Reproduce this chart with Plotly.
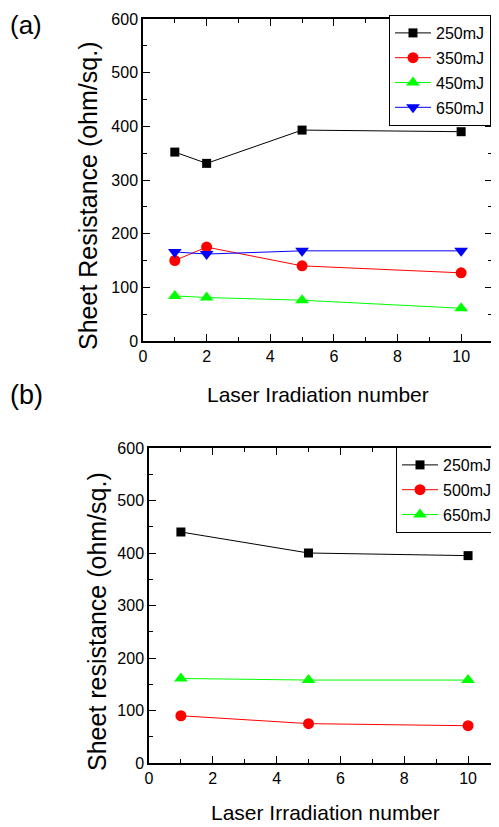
import plotly.graph_objects as go

# browser body has an 8px margin; figure sized to fit the 499x827 window exactly
OFF = 8
W, H = 499 - OFF, 827 - OFF

# ---- data panel (a)
xa = [1, 2, 5, 10]
a_250 = [352, 331, 393, 390]
a_350 = [150, 175, 140, 127]
a_450 = [84, 81, 76, 61]
a_650 = [166, 162, 168, 168]

# ---- data panel (b)
xb = [1, 5, 10]
b_250 = [440, 400, 395]
b_500 = [90, 75, 71]
b_650 = [161, 158, 158]

FONT = "Liberation Sans, Arial, sans-serif"

def px(x):
    return (x - OFF) / W

def py(y):
    return 1 - (y - OFF) / H

fig = go.Figure()

def add(x, y, name, color, symbol, size, xaxis, yaxis, legend):
    fig.add_trace(go.Scatter(
        x=x, y=y, name=name, mode="lines+markers",
        line=dict(color=color, width=1),
        marker=dict(symbol=symbol, size=size, color=color, line=dict(width=0)),
        xaxis=xaxis, yaxis=yaxis, legend=legend, legendgroup=legend + name))

add(xa, a_250, "250mJ", "#000000", "square", 9, "x", "y", "legend")
add(xa, a_350, "350mJ", "#ff0000", "circle", 11, "x", "y", "legend")
add(xa, a_450, "450mJ", "#00ff00", "triangle-up", 12, "x", "y", "legend")
add(xa, a_650, "650mJ", "#0000ff", "triangle-down", 12, "x", "y", "legend")

add(xb, b_250, "250mJ", "#000000", "square", 9, "x2", "y2", "legend2")
add(xb, b_500, "500mJ", "#ff0000", "circle", 11, "x2", "y2", "legend2")
add(xb, b_650, "650mJ", "#00ff00", "triangle-up", 12, "x2", "y2", "legend2")

axis_common = dict(
    showline=True, linecolor="black", linewidth=1.5, mirror="allticks",
    ticks="inside", ticklen=7, tickwidth=1, tickcolor="black",
    showgrid=False, zeroline=False, automargin=False,
    tickfont=dict(family=FONT, size=16, color="black"),
)
minor_x = dict(dtick=1, ticks="inside", ticklen=4, tickcolor="black")
minor_y = dict(dtick=50, ticks="inside", ticklen=4, tickcolor="black")

legend_common = dict(
    xref="container", yref="container", xanchor="left", yanchor="top",
    bgcolor="white", bordercolor="black", borderwidth=1, itemwidth=36,
    tracegroupgap=1,
    font=dict(family=FONT, size=16, color="black"),
)

fig.update_layout(
    width=W, height=H,
    margin=dict(l=0, r=0, t=0, b=0, autoexpand=False),
    paper_bgcolor="white", plot_bgcolor="white",
    font=dict(family=FONT, color="black"),
    xaxis=dict(domain=[px(143), px(492)], range=[0, 10.97], dtick=2, tick0=0,
               minor=minor_x, anchor="y", **axis_common),
    yaxis=dict(domain=[py(341), py(19)], range=[0, 600], dtick=100, tick0=0,
               minor=minor_y, anchor="x", **axis_common),
    xaxis2=dict(domain=[px(149), 1.0], range=[0, 10.97], dtick=2, tick0=0,
                minor=minor_x, anchor="y2", **axis_common),
    yaxis2=dict(domain=[py(763), py(448)], range=[0, 600], dtick=100, tick0=0,
                minor=minor_y, anchor="x2", **axis_common),
    legend=dict(x=px(389), y=py(15), **legend_common),
    legend2=dict(x=px(396), y=py(447), **legend_common),
    showlegend=True,
)

ann = [
    dict(text="(a)", x=px(8), y=py(25), xanchor="left", size=26, angle=0),
    dict(text="(b)", x=px(8), y=py(395), xanchor="left", size=27, angle=0),
    dict(text="Laser Iradiation number", x=px(318), y=py(394), xanchor="center", size=21, angle=0),
    dict(text="Laser Irradiation number", x=px(325), y=py(812), xanchor="center", size=21, angle=0),
    dict(text="Sheet Resistance (ohm/sq.)", x=px(88), y=py(196), xanchor="center", size=25, angle=-90),
    dict(text="Sheet resistance (ohm/sq.)", x=px(97), y=py(622), xanchor="center", size=25, angle=-90),
]
for a in ann:
    fig.add_annotation(text=a["text"], x=a["x"], y=a["y"], xref="paper", yref="paper",
                       xanchor=a["xanchor"], yanchor="middle", textangle=a["angle"],
                       showarrow=False, font=dict(family=FONT, size=a["size"], color="black"))

fig.write_html("out.html")
